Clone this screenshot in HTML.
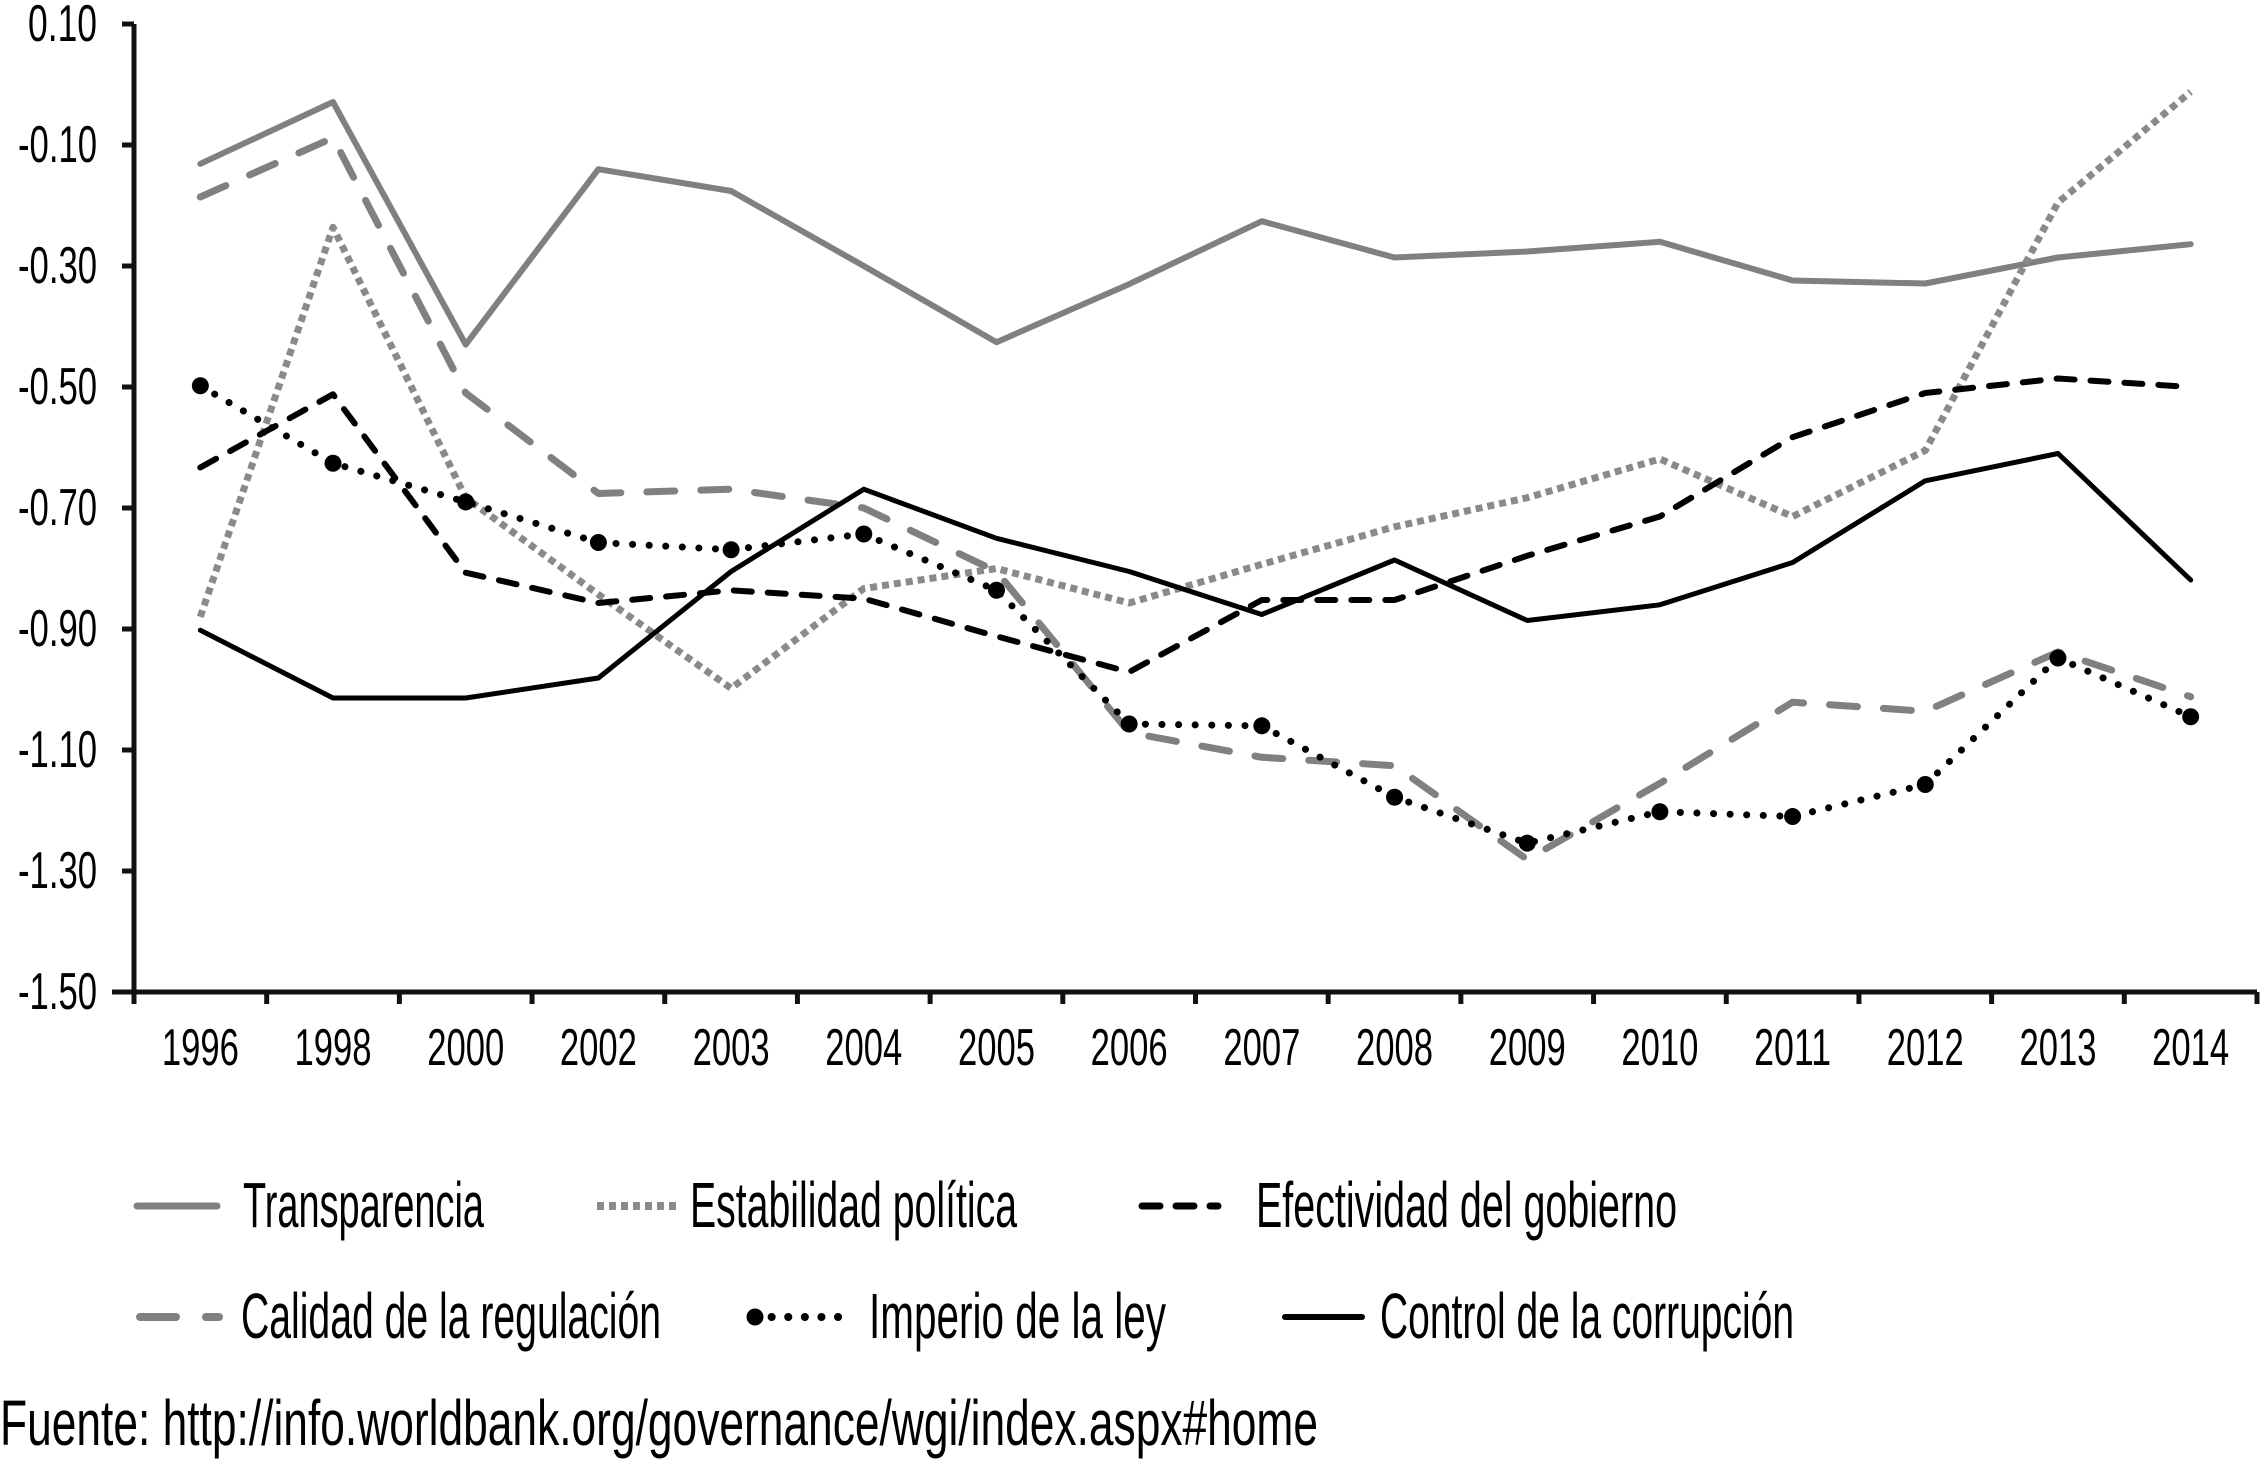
<!DOCTYPE html>
<html><head><meta charset="utf-8"><style>
html,body{margin:0;padding:0;background:#fff;}
svg{display:block;}
text{font-family:"Liberation Sans",sans-serif;fill:#000;}
</style></head><body>
<svg id="chart" width="2263" height="1465" viewBox="0 0 2263 1465" xmlns="http://www.w3.org/2000/svg">
<g id="axes"></g>
<g id="series"></g>
<g id="legend"></g>
<text x="0" y="1445" font-size="64" textLength="1318" lengthAdjust="spacingAndGlyphs">Fuente: http://info.worldbank.org/governance/wgi/index.aspx#home</text>
</svg>
<script>
const years = ["1996","1998","2000","2002","2003","2004","2005","2006","2007","2008","2009","2010","2011","2012","2013","2014"];
const yTicks = [0.10,-0.10,-0.30,-0.50,-0.70,-0.90,-1.10,-1.30,-1.50];
const yTickLabels = ["0.10","-0.10","-0.30","-0.50","-0.70","-0.90","-1.10","-1.30","-1.50"];
const transparencia = [-0.131,-0.029,-0.43,-0.14,-0.176,-0.30,-0.426,-0.33,-0.226,-0.286,-0.276,-0.26,-0.324,-0.329,-0.286,-0.264];
const estabilidad = [-0.88,-0.236,-0.683,-0.843,-0.998,-0.833,-0.80,-0.857,-0.793,-0.731,-0.683,-0.619,-0.714,-0.605,-0.195,-0.012];
const efectividad = [-0.633,-0.512,-0.807,-0.857,-0.836,-0.85,-0.912,-0.971,-0.852,-0.852,-0.779,-0.714,-0.583,-0.51,-0.486,-0.50];
const calidad = [-0.186,-0.088,-0.51,-0.676,-0.669,-0.70,-0.805,-1.071,-1.112,-1.126,-1.281,-1.155,-1.021,-1.036,-0.938,-1.012];
const imperio = [-0.498,-0.626,-0.69,-0.757,-0.769,-0.743,-0.836,-1.057,-1.06,-1.178,-1.254,-1.202,-1.21,-1.157,-0.948,-1.045];
const control = [-0.902,-1.014,-1.014,-0.981,-0.805,-0.669,-0.75,-0.805,-0.876,-0.786,-0.886,-0.86,-0.79,-0.655,-0.61,-0.819];
const seriesNames = ["Transparencia","Estabilidad política","Efectividad del gobierno","Calidad de la regulación","Imperio de la ley","Control de la corrupción"];

const NS="http://www.w3.org/2000/svg";
const X0=134,X1=2257,Y0=24,Y1=992,VMAX=0.10,VMIN=-1.50;
const bw=(X1-X0)/years.length;
function xPos(i){return X0+bw*(i+0.5);}
function yPos(v){return Y0+(VMAX-v)/(VMAX-VMIN)*(Y1-Y0);}
function mk(tag,attrs,parent){const e=document.createElementNS(NS,tag);for(const k in attrs)e.setAttribute(k,attrs[k]);parent.appendChild(e);return e;}

const axes=document.getElementById('axes');
let a=mk('line',{x1:X0,y1:Y0,x2:X0,y2:Y1,stroke:'#111','stroke-width':5},axes);


a=mk('line',{x1:X0-22,y1:Y1,x2:X1,y2:Y1,stroke:'#111','stroke-width':5},axes);


yTicks.forEach((v,i)=>{
  const y=yPos(v);
  const t=mk('line',{x1:X0-12,y1:y,x2:X0,y2:y,stroke:'#111','stroke-width':5},axes);
  
  
  const lab=yTickLabels[i];
  const tx=mk('text',{x:97,y:y+17,'font-size':52,'text-anchor':'end',textLength:lab.length===4?69:79,lengthAdjust:'spacingAndGlyphs'},axes);
  tx.textContent=lab;
  
  
});
for(let i=0;i<=years.length;i++){
  const x=X0+bw*i;
  const t=mk('line',{x1:x,y1:Y1,x2:x,y2:Y1+12,stroke:'#111','stroke-width':5},axes);
  
  
}
years.forEach((yr,i)=>{
  const tx=mk('text',{x:xPos(i),y:1065,'font-size':52,'text-anchor':'middle',textLength:77,lengthAdjust:'spacingAndGlyphs'},axes);
  tx.textContent=yr;
  
  
});

const styles=[
  {data:transparencia,stroke:'#808080',w:6,dash:null,cap:'round',name:'line-transparencia'},
  {data:estabilidad,stroke:'#8a8a8a',w:7,dash:'7 5',cap:'butt',name:'line-estabilidad-politica'},
  {data:efectividad,stroke:'#000',w:6,dash:'18 16',cap:'round',name:'line-efectividad-gobierno'},
  {data:calidad,stroke:'#808080',w:7,dash:'28 26',cap:'round',name:'line-calidad-regulacion'},
  {data:imperio,stroke:'#000',w:7,dash:'0.1 16.5',cap:'round',name:'line-imperio-ley'},
  {data:control,stroke:'#000',w:5,dash:null,cap:'round',name:'line-control-corrupcion'}
];
const sg=document.getElementById('series');
styles.forEach(s=>{
  const pts=s.data.map((v,i)=>xPos(i).toFixed(1)+','+yPos(v).toFixed(1)).join(' ');
  const p=mk('polyline',{points:pts,fill:'none',stroke:s.stroke,'stroke-width':s.w,'stroke-linecap':s.cap,'stroke-linejoin':'round'},sg);
  if(s.dash)p.setAttribute('stroke-dasharray',s.dash);
  
  
});
imperio.forEach((v,i)=>{
  const c=mk('circle',{cx:xPos(i),cy:yPos(v),r:8.5,fill:'#000'},sg);
  
  
});

const lg=document.getElementById('legend');
const legendItems=[
  {x1:137,x2:217,y:1206,tx:243,ty:1227,tw:241,s:styles[0]},
  {x1:597,x2:678,y:1206,tx:690,ty:1227,tw:327,s:styles[1]},
  {x1:1142,x2:1218,y:1206,tx:1256,ty:1227,tw:421,s:styles[2]},
  {x1:140,x2:219,y:1317,tx:241,ty:1338,tw:420,s:styles[3]},
  {x1:755,x2:851,y:1317,tx:869,ty:1338,tw:297,s:styles[4]},
  {x1:1285,x2:1362,y:1317,tx:1380,ty:1338,tw:414,s:styles[5]}
];
legendItems.forEach((it,k)=>{
  const g=mk('g',{},lg);
  
  
  const l=mk('line',{x1:it.x1,y1:it.y,x2:it.x2,y2:it.y,stroke:it.s.stroke,'stroke-width':it.s.w+1,'stroke-linecap':it.s.cap},g);
  if(it.s.dash)l.setAttribute('stroke-dasharray',k===3?'36 30':it.s.dash);
  
  
  if(k===4){
    const c=mk('circle',{cx:it.x1,cy:it.y,r:8.5,fill:'#000'},g);
    
    
  }
  const t=mk('text',{x:it.tx,y:it.ty,'font-size':64,textLength:it.tw,lengthAdjust:'spacingAndGlyphs'},g);
  t.textContent=seriesNames[k];
  
  
});
</script>
</body></html>
